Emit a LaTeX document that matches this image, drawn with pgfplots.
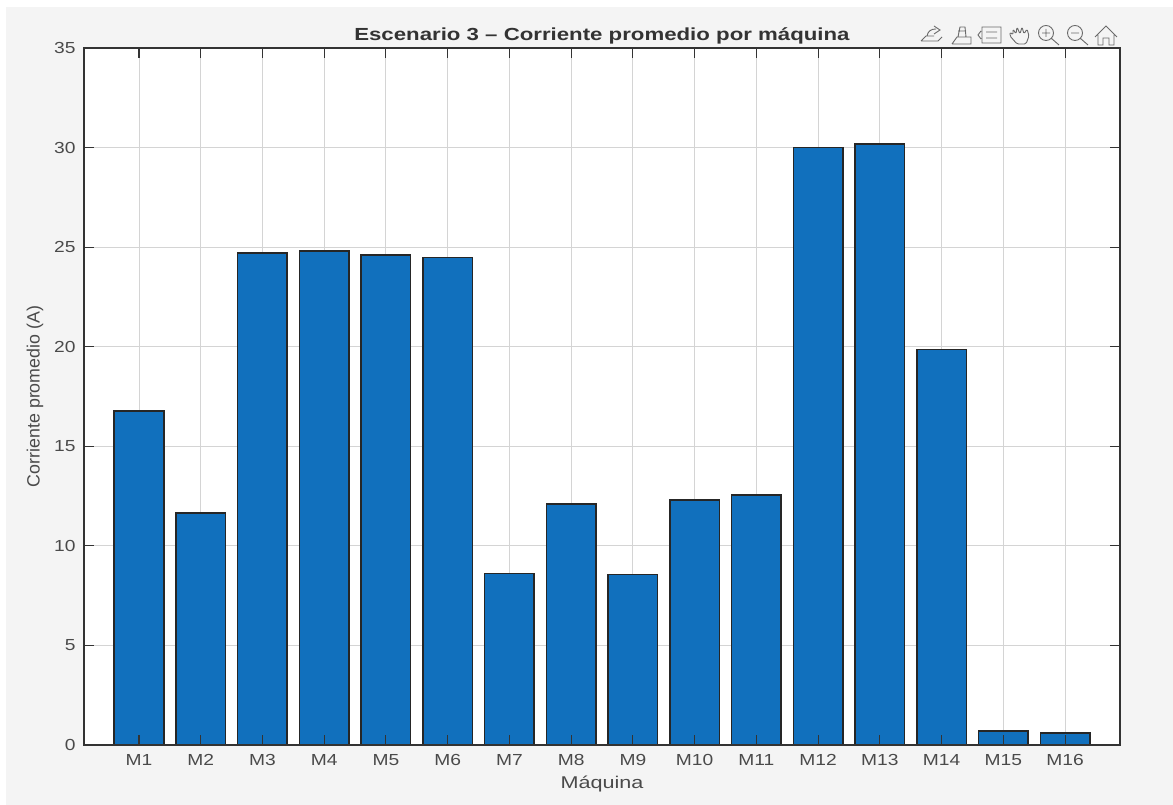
\documentclass[border=0pt]{standalone}
\usepackage{pgfplots}
\pgfplotsset{compat=1.18}
\usepackage{fontspec}
\setmainfont{Liberation Sans}
\newfontfamily\widett[FakeStretch=1.2]{Liberation Sans}
\newfontfamily\widelab[FakeStretch=1.27]{Liberation Sans}
\newfontfamily\widetitle[FakeStretch=1.27,BoldFont={Liberation Sans Bold}]{Liberation Sans}
\definecolor{figbg}{HTML}{F4F4F4}
\definecolor{barblue}{HTML}{1170BD}
\definecolor{axc}{HTML}{333333}
\definecolor{txt}{HTML}{4A4A4A}
\definecolor{icon}{HTML}{6A6A6A}
\pgfplotsset{layers/barsbelow/.define layer set={page,axis background,axis grid,main,axis ticks,axis lines,axis tick labels,axis descriptions,axis foreground}{
  grid style={/pgfplots/on layer=axis grid},
  tick style={/pgfplots/on layer=axis ticks},
  axis line style={/pgfplots/on layer=axis lines},
  label style={/pgfplots/on layer=axis descriptions},
  title style={/pgfplots/on layer=axis descriptions},
  tick label style={/pgfplots/on layer=axis tick labels},
  axis background@ style={/pgfplots/on layer=axis background},
}}
\begin{document}
\begin{tikzpicture}[x=1pt,y=1pt]
\begin{axis}[
  set layers=barsbelow,
  at={(84pt,60pt)}, anchor=south west,
  scale only axis, width=1036pt, height=697pt,
  xmin=0.11, xmax=16.89, ymin=0, ymax=35,
  xtick={1,...,16},
  xticklabels={M1,M2,M3,M4,M5,M6,M7,M8,M9,M10,M11,M12,M13,M14,M15,M16},
  ytick={0,5,...,35},
  tick align=inside, major tick length=10pt,
  xtick pos=both, ytick pos=both,
  tick style={color=axc,line width=1.1pt},
  axis line style={color=axc,line width=1.3pt},
  grid=major, major grid style={color=black!17,line width=0.9pt},
  axis background/.style={fill=white},
  tick label style={font=\widett\fontsize{16}{18}\selectfont,text=txt},
  /pgf/number format/assume math mode=true,
  xticklabel style={yshift=-6pt},
  yticklabel style={xshift=-5pt},
  xlabel={Máquina}, ylabel={Corriente promedio (A)},
  xlabel style={font=\widelab\fontsize{17}{19}\selectfont,text=txt,yshift=-3pt},
  ylabel style={font=\fontsize{17.8}{19}\selectfont,text=txt,yshift=4pt},
  title={\textbf{Escenario 3 – Corriente promedio por máquina}},
  title style={font=\widetitle\fontsize{17.5}{19}\selectfont,text=axc,yshift=-6pt},
  clip=false,
]
\begin{pgfonlayer}{page}
\fill[white] (rel axis cs:-0.08108,-0.08608) rectangle (rel axis cs:1.05116,1.06887);
\fill[figbg] (rel axis cs:-0.07529,-0.08608) rectangle (rel axis cs:1.05116,1.05882);
\end{pgfonlayer}
\addplot[ybar, bar width=49.6pt, fill=barblue, draw=black!85, line width=1.5pt] coordinates {
(1,16.78)(2,11.65)(3,24.7)(4,24.8)(5,24.6)(6,24.47)(7,8.6)(8,12.1)(9,8.55)(10,12.3)(11,12.55)(12,30.0)(13,30.18)(14,19.85)(15,0.7)(16,0.6)};
\end{axis}
% toolbar icons
\begin{scope}[draw=icon,line width=0.9pt,yshift=805pt,y=-1pt]
 \draw (921,41)--(938,41)--(942,37) (921,41)--(926,36)--(934,36) (927,36) .. controls (928,31) and (931,29) .. (936,29) (934,26)--(940,30)--(934,34);
 \draw (952,44)--(971,44)--(971,37)--(957,37)--(952,44) (958,37)--(960,27)--(965,27)--(966,37) (958,31)--(966,31);
 \draw (982,27) rectangle (1001,43) (986,32)--(997,32) (986,38)--(997,38) (981,31)--(978,35)--(981,39);
 \draw[rounded corners=1.5pt] (1017,44)--(1010,36)--(1010,32)--(1013,35)--(1013,29)--(1016,34)--(1017,27)--(1020,34)--(1022,27)--(1024,34)--(1027,29)--(1029,36)--(1026,44)--cycle;
 \draw (1046,33) circle (7.5) (1051.5,38.5)--(1059,45) (1042,33)--(1050,33) (1046,29)--(1046,37);
 \draw (1075,33) circle (7.5) (1080.5,38.5)--(1088,45) (1071,33)--(1079,33);
 \draw (1095,37)--(1106,26)--(1117,37) (1098,35)--(1098,45)--(1103,45)--(1103,38)--(1109,38)--(1109,45)--(1114,45)--(1114,35);
\end{scope}
\end{tikzpicture}
\end{document}
